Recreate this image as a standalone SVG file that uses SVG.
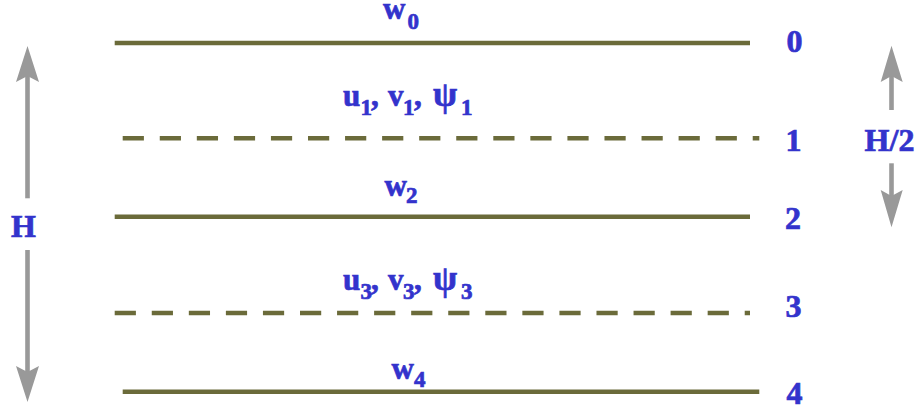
<svg xmlns="http://www.w3.org/2000/svg" width="919" height="409" viewBox="0 0 919 409">
<style>
.lvl{stroke:#6b6b3a;stroke-width:4.6;fill:none;stroke-linecap:butt}
.dash{stroke-dasharray:21.2 15.86}
.lbl{font-family:"Liberation Serif","Times New Roman",serif;font-weight:bold;fill:#3333cc;stroke:#3333cc;stroke-width:0.7;font-size:31px}
.sub{font-size:23px}
.psi{font-size:35px}
.num{font-size:32px;text-anchor:middle}
.ar{stroke:#999999;stroke-width:4.6;fill:none}
.hd{fill:#999999;stroke:none}
</style>
<rect width="919" height="409" fill="#ffffff"/>
<g id="level0">
<line class="lvl" x1="114.7" y1="43" x2="750" y2="43"/>
<text class="lbl"><tspan x="383" y="19">w</tspan><tspan class="sub" x="407.5" y="28.5">0</tspan></text>
<text class="lbl num" x="794.5" y="52">0</text>
</g>
<g id="level1">
<line class="lvl dash" x1="122.7" y1="138.3" x2="759.3" y2="138.3"/>
<text class="lbl"><tspan x="343" y="106">u</tspan><tspan class="sub" x="360.5" y="115">1</tspan><tspan x="371" y="106">,</tspan><tspan x="388" y="106">v</tspan><tspan class="sub" x="403" y="115">1</tspan><tspan x="414" y="106">,</tspan><tspan class="psi" x="433" y="106">ψ</tspan><tspan class="sub" x="461" y="115">1</tspan></text>
<text class="lbl num" x="793.5" y="150.5">1</text>
</g>
<g id="level2">
<line class="lvl" x1="114.7" y1="216.7" x2="750" y2="216.7"/>
<text class="lbl"><tspan x="384.5" y="195.5">w</tspan><tspan class="sub" x="406" y="203">2</tspan></text>
<text class="lbl num" x="793" y="228.5">2</text>
</g>
<g id="level3">
<line class="lvl dash" x1="114.7" y1="313" x2="750" y2="313"/>
<text class="lbl"><tspan x="343" y="289.5">u</tspan><tspan class="sub" x="360.5" y="298.5">3</tspan><tspan x="371" y="289.5">,</tspan><tspan x="388" y="289.5">v</tspan><tspan class="sub" x="403" y="298.5">3</tspan><tspan x="414" y="289.5">,</tspan><tspan class="psi" x="433" y="289.5">ψ</tspan><tspan class="sub" x="461" y="298.5">3</tspan></text>
<text class="lbl num" x="793.5" y="316.5">3</text>
</g>
<g id="level4">
<line class="lvl" x1="122.7" y1="391.7" x2="759.3" y2="391.7"/>
<text class="lbl"><tspan x="391.5" y="378.5">w</tspan><tspan class="sub" x="414" y="386.5">4</tspan></text>
<text class="lbl num" x="794.5" y="403.5">4</text>
</g>
<g id="H-label">
<text class="lbl num" x="23.4" y="237">H</text>
</g>
<g id="H2-label">
<text class="lbl num" x="889.5" y="151">H/2</text>
</g>
<g id="connectors">
<line class="ar" x1="27.5" y1="76" x2="27.5" y2="198.3"/>
<polygon class="hd" points="27.5,46 39,82 27.5,76 16,82"/>
<line class="ar" x1="27.5" y1="250" x2="27.5" y2="372"/>
<polygon class="hd" points="27.5,402 39,366 27.5,372 16,366"/>
<line class="ar" x1="891.5" y1="76" x2="891.5" y2="110"/>
<polygon class="hd" points="891.5,45.7 902.7,82 891.5,76 880.7,82"/>
<line class="ar" x1="891.5" y1="163.3" x2="891.5" y2="196"/>
<polygon class="hd" points="891.5,227.3 902.7,190 891.5,196 880.7,190"/>
</g>
</svg>
